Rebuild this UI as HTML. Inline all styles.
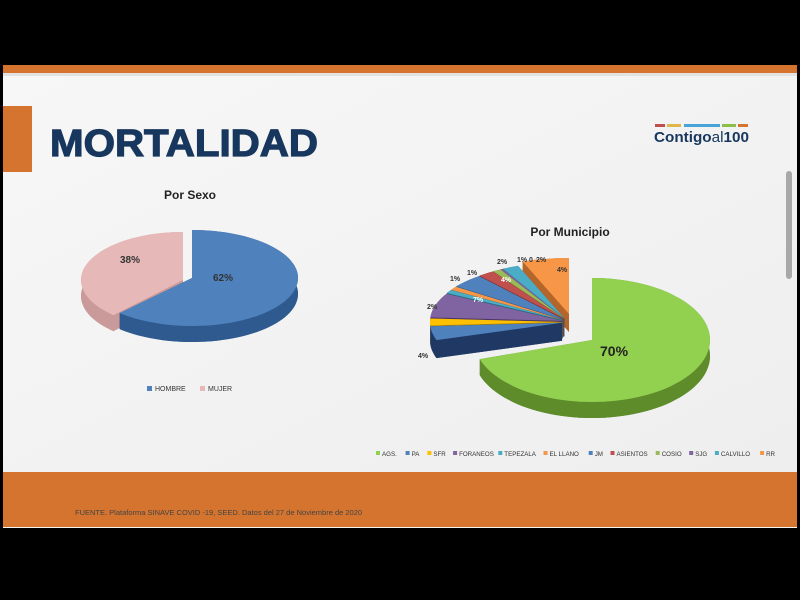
<!DOCTYPE html>
<html><head><meta charset="utf-8"><style>
body{margin:0;width:800px;height:600px;background:#000;overflow:hidden;font-family:"Liberation Sans",sans-serif}
#s{position:absolute;left:3px;top:65px;width:794px;height:463px;background:#f3f3f3}
</style></head><body>
<div id="s"></div>
<svg id="g" width="800" height="600" style="position:absolute;left:0;top:0">
<defs><linearGradient id="bg" x1="0" y1="0" x2="1" y2="1"><stop offset="0" stop-color="#f7f7f7"/><stop offset="1" stop-color="#eeeeee"/></linearGradient></defs>
<rect x="3" y="73" width="794" height="400" fill="url(#bg)"/>
<rect x="3" y="65" width="794" height="8" fill="#d4742e"/>
<rect x="3" y="73" width="794" height="3" fill="#e2e2e2"/>
<rect x="3" y="106" width="29" height="66" fill="#d4742e"/>
<text x="50" y="156" font-size="38" font-weight="bold" fill="#17375e" stroke="#17375e" stroke-width="1.2" textLength="268" lengthAdjust="spacingAndGlyphs">MORTALIDAD</text>
<rect x="655" y="124" width="10" height="3" fill="#c0504d"/><rect x="667" y="124" width="14" height="3" fill="#e0b84a"/><rect x="684" y="124" width="36" height="3" fill="#4aa3d8"/><rect x="722" y="124" width="14" height="3" fill="#8cbf4a"/><rect x="738" y="124" width="10" height="3" fill="#d4742e"/>
<text x="654" y="142" font-size="15" font-weight="bold" fill="#17375e" textLength="95" lengthAdjust="spacingAndGlyphs">Contigo<tspan font-weight="normal">al</tspan>100</text>
<rect x="786" y="171" width="6" height="108" rx="3" fill="#a8a8a8"/>
<text x="190" y="199" font-size="12" font-weight="bold" fill="#222" text-anchor="middle">Por Sexo</text>
<text x="570" y="236" font-size="12" font-weight="bold" fill="#222" text-anchor="middle">Por Municipio</text>
<g id="pies"></g>
<rect x="147" y="386" width="5" height="5" fill="#4f81bd"/><text x="155" y="391" font-size="7" fill="#333">HOMBRE</text>
<rect x="200" y="386" width="5" height="5" fill="#e6b9b8"/><text x="208" y="391" font-size="7" fill="#333">MUJER</text>
<g id="leg" font-size="6.5" fill="#333"></g>
<rect x="3" y="472" width="794" height="55" fill="#d4742e"/>
<text x="75" y="515" font-size="7.5" fill="#444">FUENTE. Plataforma SINAVE COVID -19, SEED. Datos del 27 de Noviembre de 2020</text>
</svg>
<script>
var NS="http://www.w3.org/2000/svg",P=document.getElementById('pies');
function el(t,a){var e=document.createElementNS(NS,t);for(var k in a)e.setAttribute(k,a[k]);P.appendChild(e);return e}
function pt(cx,cy,rx,ry,t){t=t*Math.PI/180;return [cx+rx*Math.sin(t),cy-ry*Math.cos(t)]}
function arc(cx,cy,rx,ry,a,b,rev){var s="",n=Math.max(2,Math.ceil(Math.abs(b-a)/3));for(var i=0;i<=n;i++){var t=rev?b-(b-a)*i/n:a+(b-a)*i/n;var p=pt(cx,cy,rx,ry,t);s+=(i||rev?"L":"M")+p[0].toFixed(1)+","+p[1].toFixed(1)}return s}
function drawSide(cx,cy,rx,ry,d,a,b,dk){
 el('path',{d:"M"+cx+","+(cy+d)+arc(cx,cy+d,rx,ry,a,b).replace(/^M/,"L")+"Z",fill:dk});
 el('path',{d:arc(cx,cy,rx,ry,a,b)+arc(cx,cy+d,rx,ry,a,b,true)+"Z",fill:dk});
 var p=pt(cx,cy,rx,ry,a),q=pt(cx,cy,rx,ry,b);
 el('path',{d:"M"+cx+","+cy+"L"+p[0]+","+p[1]+"L"+p[0]+","+(p[1]+d)+"L"+cx+","+(cy+d)+"Z",fill:dk});
 el('path',{d:"M"+cx+","+cy+"L"+q[0]+","+q[1]+"L"+q[0]+","+(q[1]+d)+"L"+cx+","+(cy+d)+"Z",fill:dk});
}
function drawTop(cx,cy,rx,ry,a,b,c){el('path',{d:"M"+cx+","+cy+arc(cx,cy,rx,ry,a,b).replace(/^M/,"L")+"Z",fill:c})}
function slice(cx,cy,rx,ry,d,a,b,c,dk){drawSide(cx,cy,rx,ry,d,a,b,dk);drawTop(cx,cy,rx,ry,a,b,c)}
slice(183,280,102,48,16,223,360,"#e6b9b8","#c99a99");
slice(192,278,106,48,16,0,223,"#4f81bd","#2f5a8f");
el('text',{x:120,y:263,"font-size":10,"font-weight":"bold",fill:"#333"}).textContent="38%";
el('text',{x:213,y:281,"font-size":10,"font-weight":"bold",fill:"#333"}).textContent="62%";
var sl=[[4,"#4f81bd","#1f3864"],[2,"#ffc000","#b38600"],[7,"#8064a2","#4a3766"],[1,"#4bacc6","#2a6e80"],[1,"#f79646","#a85f22"],[4,"#4f81bd","#2f5a8f"],[2,"#c0504d","#7f2d2b"],[1,"#9bbb59","#5e7a2e"],[0.3,"#8064a2","#4a3766"],[2,"#4bacc6","#2a6e80"],[4,"#f79646","#b3652a"]];
var a=252,geo=[];
for(var i=0;i<sl.length;i++){var b=a+sl[i][0]*3.6;if(i==sl.length-1)b=360;var m=(a+b)/2*Math.PI/180,ex=i==10?0:4;geo.push([566+ex*Math.sin(m)+(i==10?3:0),322-ex*Math.cos(m)+(i==10?-8:0),a,b]);a=b}
for(var i=sl.length-1;i>=0;i--){var g=geo[i];drawSide(g[0],g[1],132,56,18,g[2],g[3],sl[i][2])}
for(var i=sl.length-1;i>=0;i--){var g=geo[i];drawTop(g[0],g[1],132,56,g[2],g[3],sl[i][1])}
slice(592,340,118,62,16,0,252,"#92d050","#5e8c2a");
el('text',{x:600,y:356,"font-size":14,"font-weight":"bold",fill:"#222"}).textContent="70%";
var L=[["7%",473,302,"#fff"],["4%",501,282,"#fff"],["4%",557,272,"#333"],["2%",427,309,"#333"],["1%",450,281,"#333"],["1%",467,275,"#333"],["2%",497,264,"#333"],["1% 0",517,262,"#333"],["2%",536,262,"#333"],["4%",418,358,"#333"]];
L.forEach(function(l){el('text',{x:l[1],y:l[2],"font-size":7,"font-weight":"bold",fill:l[3]}).textContent=l[0]});
var G=document.getElementById('leg'),items=[["AGS.","#92d050"],["PA","#4f81bd"],["SFR","#ffc000"],["FORANEOS","#8064a2"],["TEPEZALA","#4bacc6"],["EL LLANO","#f79646"],["JM","#4f81bd"],["ASIENTOS","#c0504d"],["COSIO","#9bbb59"],["SJG","#8064a2"],["CALVILLO","#4bacc6"],["RR","#f79646"]],x=376;
items.forEach(function(it){var r=document.createElementNS(NS,'rect');r.setAttribute('x',x);r.setAttribute('y',451);r.setAttribute('width',4);r.setAttribute('height',4);r.setAttribute('fill',it[1]);G.appendChild(r);var t=document.createElementNS(NS,'text');t.setAttribute('x',x+6);t.setAttribute('y',456);t.setAttribute('font-size','6.2');t.textContent=it[0];G.appendChild(t);x+=6+it[0].length*3.9+8});
</script>
</body></html>
